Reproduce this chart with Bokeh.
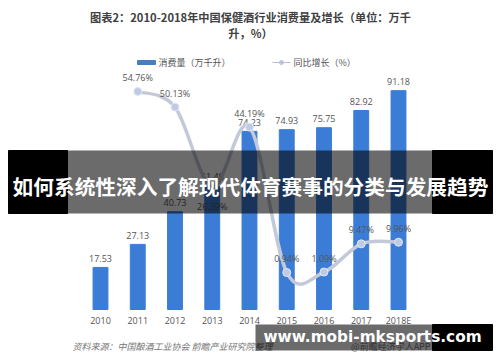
from bokeh.plotting import figure
from bokeh.models import Range1d
from bokeh.core.properties import value
from bokeh.embed import file_html
from bokeh.resources import INLINE

# ---- data ----
years = ["2010", "2011", "2012", "2013", "2014", "2015", "2016", "2017", "2018E"]
consumption = [17.53, 27.13, 40.73, 51.48, 74.23, 74.93, 75.75, 82.92, 91.18]
growth_years = ["2011", "2012", "2013", "2014", "2015", "2016", "2017", "2018E"]
growth = [54.76, 50.13, 26.39, 44.19, 0.94, 1.09, 9.47, 9.96]
growth_labels = ["54.76%", "50.13%", "26.39%", "44.19%", "0.94%", "1.09%", "9.47%", "9.96%"]

title1 = "图表2：2010-2018年中国保健酒行业消费量及增长（单位：万千"
title2 = "升，%）"
legend1 = "消费量（万千升）"
legend2 = "同比增长（%）"
source_left = "资料来源：中国酿酒工业协会  前瞻产业研究院整理"
source_right = "@前瞻经济学人APP"
banner = "如何系统性深入了解现代体育赛事的分类与发展趋势"
site = "www.mobi-mksports.com"

CJK = value("Noto Sans CJK SC")
NUM = value("Open Sans")
BLUE = "#3b7dd6"
GREY_TXT = "#555555"
LINE_C = "#c4c9da"

xi = list(range(len(years)))
gx = [years.index(y) for y in growth_years]

W, H = 500, 362
p = figure(width=W, height=H,
           x_range=Range1d(-2.6846, 10.7383), y_range=Range1d(-22.083, 128.75),
           x_axis_location=None, y_axis_location=None,
           output_backend="svg", toolbar_location=None, min_border=0)
p.grid.visible = False
p.outline_line_color = None
p.background_fill_color = "white"
p.extra_y_ranges = {"pct": Range1d(-25.81, 81.83), "py": Range1d(H, 0)}
p.extra_x_ranges = {"px": Range1d(0, W)}

# bars
p.vbar(x=xi, top=consumption, width=0.40, color=BLUE)
p.text(x=xi, y=consumption, text=[f"{v:.2f}" for v in consumption],
       text_align="center", text_baseline="middle", y_offset=-9,
       text_font=NUM, text_font_size="9px", text_color=GREY_TXT)
# category labels
p.text(x=xi, y=[0] * len(xi), text=years, text_align="center", text_baseline="middle",
       y_offset=11, text_font=NUM, text_font_size="9px", text_color=GREY_TXT)

# smooth growth line (Catmull-Rom -> bezier, in data space)
pts = list(zip(gx, growth))
x0 = []; y0 = []; x1 = []; y1 = []; cx0 = []; cy0 = []; cx1 = []; cy1 = []
for i in range(len(pts) - 1):
    pa = pts[i - 1] if i > 0 else pts[i]
    pb = pts[i]
    pc = pts[i + 1]
    pd = pts[i + 2] if i + 2 < len(pts) else pts[i + 1]
    x0.append(pb[0]); y0.append(pb[1]); x1.append(pc[0]); y1.append(pc[1])
    cx0.append(pb[0] + (pc[0] - pa[0]) / 6); cy0.append(pb[1] + (pc[1] - pa[1]) / 6)
    cx1.append(pc[0] - (pd[0] - pb[0]) / 6); cy1.append(pc[1] - (pd[1] - pb[1]) / 6)
p.bezier(x0=x0, y0=y0, x1=x1, y1=y1, cx0=cx0, cy0=cy0, cx1=cx1, cy1=cy1,
         line_color=LINE_C, line_width=3.5, y_range_name="pct")
p.scatter(x=gx, y=growth, size=8, fill_color="#bfcbe3", line_color="#e3e8f2",
          line_width=1, y_range_name="pct")
offs = [-14, -14, 20, -14, -14, -14, -14, -14]
p.text(x=gx, y=growth, text=growth_labels, text_align="center", text_baseline="middle",
       y_offset=offs, text_font=NUM, text_font_size="9px", text_color=GREY_TXT,
       y_range_name="pct")

# title
p.text(x=[250, 250], y=[16, 32], text=[title1, title2], text_align="center",
       text_baseline="middle", text_font=CJK, text_font_size="11.2px",
       text_font_style="bold", text_color="#404040", x_range_name="px", y_range_name="py")

# legend
p.quad(left=[137], right=[155], top=[60], bottom=[64], color="#4a7cc0",
       x_range_name="px", y_range_name="py")
p.segment(x0=[272], y0=[62], x1=[290], y1=[62], line_color="#b8bdd0", line_width=1.2,
          x_range_name="px", y_range_name="py")
p.scatter(x=[281], y=[62], size=4, fill_color="#b8c4dc", line_color="#b8c4dc",
          x_range_name="px", y_range_name="py")
p.text(x=[158, 293], y=[62, 62], text=[legend1, legend2], text_align="left",
       text_baseline="middle", text_font=CJK, text_font_size="9px", text_color=GREY_TXT,
       x_range_name="px", y_range_name="py")

# source
p.text(x=[72], y=[346], text=[source_left], text_align="left", text_baseline="middle",
       text_font=CJK, text_font_size="9px", text_font_style="italic", text_color="#777777",
       x_range_name="px", y_range_name="py")
p.text(x=[430], y=[346], text=[source_right], text_align="right", text_baseline="middle",
       text_font=CJK, text_font_size="9px", text_color="#777777",
       x_range_name="px", y_range_name="py")

# overlay banner
p.quad(left=[8, 432], right=[67, 492], top=[150, 150], bottom=[213, 213], color="black",
       x_range_name="px", y_range_name="py")
p.quad(left=[67], right=[432], top=[150], bottom=[213], color="black", alpha=0.58,
       line_color=None, x_range_name="px", y_range_name="py")
p.text(x=[250], y=[185], text=[banner], text_align="center", text_baseline="middle",
       text_font=CJK, text_font_size="20.7px", text_font_style="bold", text_color="white",
       x_range_name="px", y_range_name="py")

# site banner
p.quad(left=[432], right=[492], top=[324], bottom=[350], color="black",
       x_range_name="px", y_range_name="py")
p.quad(left=[255], right=[432], top=[324], bottom=[350], color="black", alpha=0.58,
       line_color=None, x_range_name="px", y_range_name="py")
p.text(x=[372], y=[336], text=[site], text_align="center", text_baseline="middle",
       text_font=value("DejaVu Sans"), text_font_size="15.3px", text_font_style="bold",
       text_color="white", x_range_name="px", y_range_name="py")

open("out.html", "w").write(file_html(p, INLINE))
